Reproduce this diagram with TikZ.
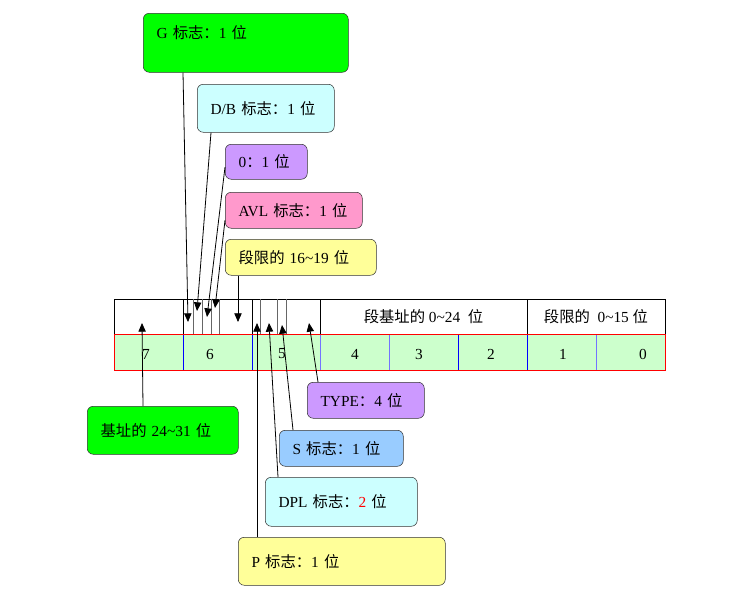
\documentclass[tikz,border=0pt]{standalone}
\usepackage{fontspec}
\setmainfont{Liberation Serif}
\newfontfamily\cjk{Noto Sans CJK SC}
\usetikzlibrary{arrows.meta}
\newcommand{\zh}[1]{{\cjk #1}}
\definecolor{flaggreen}{HTML}{00FF00}
\definecolor{flagcyan}{HTML}{CCFFFF}
\definecolor{flagviolet}{HTML}{CC99FF}
\definecolor{flagpink}{HTML}{FF99CC}
\definecolor{flagyellow}{HTML}{FFFF99}
\definecolor{flagblue}{HTML}{99CCFF}
\definecolor{cellgreen}{HTML}{CCFFCC}

\begin{document}
\begin{tikzpicture}[x=0.75pt, y=-0.75pt, font=\fontsize{11.5}{13.5}\selectfont]
	\tikzstyle{tag} = [draw=black!80, rounded corners=4.5pt, anchor=north west, inner xsep=10pt, inner ysep=0pt, align=left]
	\tikzstyle{pin} = [-{Triangle[length=6.5pt,width=5.5pt]}, line width=0.6pt]
	\tikzstyle{bit} = [draw=black!60, line width=0.5pt]
	\useasboundingbox (0,0) rectangle (738,596);
	\fill[cellgreen] (114,334) rectangle (665,370);
	\draw (114,299) rectangle (665,334);
	\foreach \x in {183,252,320,527} \draw (\x,299) -- (\x,334);
	\foreach \x in {193,202,211,219,260,277,286} \draw[bit] (\x,299) -- (\x,334);
	\foreach \x in {183,252,458,527} \draw[blue] (\x,334) -- (\x,370);
	\foreach \x in {320,389,596} \draw[blue!55] (\x,334) -- (\x,370);
	\draw[red] (114,334) rectangle (665,370);
	\foreach \n/\x in {7/146,6/210,5/282,4/355,3/419,2/491,1/563,0/643}
		\node (byte\n) at (\x,354) {\n};
	\node (basetxt) at (423.5,317) {\zh{段基址的} 0\textasciitilde24\ \ \zh{位}};
	\node (limtxt)  at (596,317)   {\zh{段限的}\ \ 0\textasciitilde15 \zh{位}};
	\node[tag, fill=flaggreen, text width=133.75pt, text height=18.75pt, text depth=25.5pt] (g) at (143,13) {G \zh{标志：}1 \zh{位}};
	\node[tag, fill=flagcyan,   text width=82.75pt, minimum height=36pt]    (db)   at (197,84)  {D/B \zh{标志：}1 \zh{位}};
	\node[tag, fill=flagviolet, text width=41.5pt,  minimum height=26.25pt] (zero) at (225,144) {0\zh{：}1 \zh{位}};
	\node[tag, fill=flagpink,   text width=82.75pt, minimum height=27pt]    (avl)  at (225,192) {AVL \zh{标志：}1 \zh{位}};
	\node[tag, fill=flagyellow, text width=93.25pt, minimum height=27pt]    (lim)  at (225,239) {\zh{段限的} 16\textasciitilde19 \zh{位}};
	\node[tag, fill=flaggreen,  text width=93.25pt, minimum height=36pt]    (base) at (87,406)  {\zh{基址的} 24\textasciitilde31 \zh{位}};
	\node[tag, fill=flagviolet, text width=67.75pt, minimum height=27pt]    (type) at (307,382) {TYPE\zh{：}4 \zh{位}};
	\node[tag, fill=flagblue,   text width=73pt,    minimum height=27pt]    (s)    at (279,430) {S \zh{标志：}1 \zh{位}};
	\node[tag, fill=flagcyan,   text width=94pt,    minimum height=36.75pt] (dpl)  at (265,477) {DPL \zh{标志：}{\color{red}2} \zh{位}};
	\node[tag, fill=flagyellow, text width=135.25pt, minimum height=36pt]   (p)    at (238,537) {P \zh{标志：}1 \zh{位}};
	\coordinate (gbit)    at (188,322);
	\coordinate (dbbit)   at (197,311);
	\coordinate (zerobit) at (207,317);
	\coordinate (avlbit)  at (215,308);
	\coordinate (limbit)  at (238,322);
	\coordinate (basebit) at (142,323);
	\coordinate (pbit)    at (257,323);
	\coordinate (dplbit)  at (269,323);
	\coordinate (sbit)    at (282,325);
	\coordinate (typebit) at (309,323);
	\draw [pin]   ([xshift=30pt]g.south west) -- (gbit);
	\draw [pin]   ([xshift=10.5pt]db.south west) -- (dbbit);
	\draw [pin]   ([yshift=-4pt]zero.west) -- (zerobit);
	\draw [pin]   ([yshift=-7.5pt]avl.west) -- (avlbit);
	\draw [pin]   ([xshift=9.75pt]lim.south west) -- (limbit);
	\draw [pin]   ([xshift=42pt]base.north west) -- (basebit);
	\draw [pin]   ([xshift=14.25pt]p.north west) -- (pbit);
	\draw [pin]   ([xshift=9.75pt]dpl.north west) -- (dplbit);
	\draw [pin]   ([xshift=10.5pt]s.north west) -- (sbit);
	\draw [pin]   ([xshift=8.25pt]type.north west) -- (typebit);
\end{tikzpicture}
\end{document}
